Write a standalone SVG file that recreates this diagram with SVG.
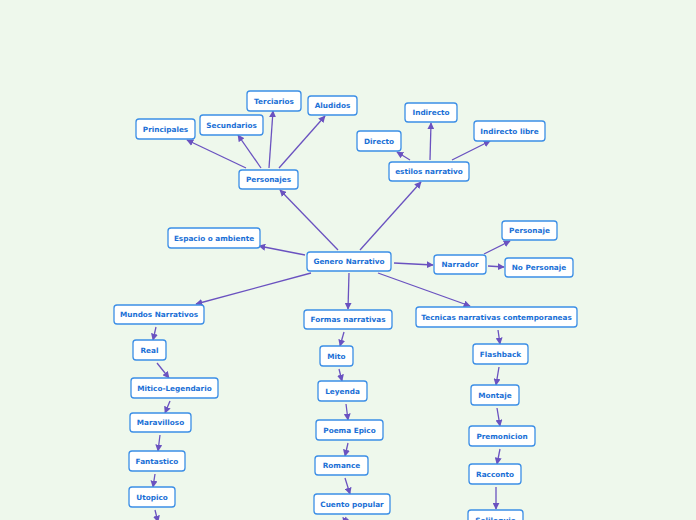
<svg xmlns="http://www.w3.org/2000/svg" width="696" height="520" viewBox="0 0 696 520">
<style>
.n rect{fill:#fff;stroke:#3b8ee6;stroke-width:1.3}
.n text{font-family:Verdana,"DejaVu Sans",sans-serif;font-size:7.3px;font-weight:bold;fill:#1a6fd6;text-anchor:middle;dominant-baseline:central}
.c line{stroke:#6a52c0;stroke-width:1.3;marker-end:url(#a)}
</style>
<defs><marker id="a" viewBox="0 0 10 10" refX="9" refY="5" markerWidth="7" markerHeight="7" orient="auto" markerUnits="userSpaceOnUse"><path d="M0,0L10,5L0,10z" fill="#6a52c0"/></marker></defs>
<rect width="696" height="520" fill="#eef8ec"/>
<g class="c">
<line x1="338" y1="250" x2="280" y2="190"/>
<line x1="360" y1="250" x2="421" y2="182"/>
<line x1="305" y1="255" x2="259" y2="246"/>
<line x1="394" y1="263" x2="433" y2="265"/>
<line x1="311" y1="273" x2="196" y2="304"/>
<line x1="349" y1="273" x2="348" y2="309"/>
<line x1="378" y1="273" x2="470" y2="306"/>
<line x1="246" y1="168" x2="187" y2="140"/>
<line x1="261" y1="168" x2="238" y2="135"/>
<line x1="269" y1="168" x2="273" y2="111"/>
<line x1="279" y1="168" x2="325" y2="116"/>
<line x1="410" y1="160" x2="397" y2="152"/>
<line x1="430" y1="160" x2="431" y2="123"/>
<line x1="452" y1="160" x2="490" y2="141"/>
<line x1="484" y1="254" x2="510" y2="241"/>
<line x1="488" y1="266" x2="504" y2="267"/>
<line x1="156" y1="327" x2="153" y2="340"/>
<line x1="157" y1="363" x2="169" y2="378"/>
<line x1="170" y1="401" x2="165" y2="413"/>
<line x1="160" y1="435" x2="158" y2="451"/>
<line x1="155" y1="474" x2="153" y2="487"/>
<line x1="155" y1="510" x2="158" y2="522"/>
<line x1="344" y1="332" x2="340" y2="346"/>
<line x1="339" y1="369" x2="342" y2="381"/>
<line x1="346" y1="404" x2="348" y2="420"/>
<line x1="348" y1="443" x2="345" y2="456"/>
<line x1="345" y1="478" x2="350" y2="494"/>
<line x1="346" y1="517" x2="344" y2="524"/>
<line x1="498" y1="330" x2="500" y2="344"/>
<line x1="499" y1="367" x2="496" y2="385"/>
<line x1="497" y1="408" x2="500" y2="426"/>
<line x1="500" y1="449" x2="497" y2="464"/>
<line x1="496" y1="487" x2="496" y2="509"/>
</g>
<g id="genero" class="n"><rect x="307" y="252" width="84" height="19" rx="3"/><text x="349" y="261.5">Genero Narrativo</text></g>
<g id="personajes" class="n"><rect x="239" y="170" width="59" height="19" rx="3"/><text x="268.5" y="179.5">Personajes</text></g>
<g id="principales" class="n"><rect x="136" y="119" width="59" height="20" rx="3"/><text x="165.5" y="129">Principales</text></g>
<g id="secundarios" class="n"><rect x="200" y="115" width="63" height="20" rx="3"/><text x="231.5" y="125">Secundarios</text></g>
<g id="terciarios" class="n"><rect x="247" y="91" width="54" height="20" rx="3"/><text x="274" y="101">Terciarios</text></g>
<g id="aludidos" class="n"><rect x="308" y="96" width="49" height="19" rx="3"/><text x="332.5" y="105.5">Aludidos</text></g>
<g id="espacio" class="n"><rect x="168" y="228" width="92" height="20" rx="3"/><text x="214" y="238">Espacio o ambiente</text></g>
<g id="estilos" class="n"><rect x="389" y="162" width="80" height="19" rx="3"/><text x="429" y="171.5">estilos narrativo</text></g>
<g id="directo" class="n"><rect x="357" y="131" width="44" height="20" rx="3"/><text x="379" y="141">Directo</text></g>
<g id="indirecto" class="n"><rect x="405" y="103" width="52" height="19" rx="3"/><text x="431" y="112.5">Indirecto</text></g>
<g id="indirectolibre" class="n"><rect x="474" y="121" width="71" height="20" rx="3"/><text x="509.5" y="131">Indirecto libre</text></g>
<g id="narrador" class="n"><rect x="434" y="255" width="52" height="19" rx="3"/><text x="460" y="264.5">Narrador</text></g>
<g id="personaje" class="n"><rect x="502" y="221" width="55" height="19" rx="3"/><text x="529.5" y="230.5">Personaje</text></g>
<g id="nopersonaje" class="n"><rect x="505" y="258" width="68" height="19" rx="3"/><text x="539" y="267.5">No Personaje</text></g>
<g id="mundos" class="n"><rect x="114" y="305" width="90" height="19" rx="3"/><text x="159" y="314.5">Mundos Narrativos</text></g>
<g id="real" class="n"><rect x="133" y="340" width="33" height="20" rx="3"/><text x="149.5" y="350">Real</text></g>
<g id="mitico" class="n"><rect x="131" y="378" width="87" height="20" rx="3"/><text x="174.5" y="388">Mitico-Legendario</text></g>
<g id="maravilloso" class="n"><rect x="130" y="413" width="61" height="19" rx="3"/><text x="160.5" y="422.5">Maravilloso</text></g>
<g id="fantastico" class="n"><rect x="129" y="451" width="56" height="20" rx="3"/><text x="157" y="461">Fantastico</text></g>
<g id="utopico" class="n"><rect x="129" y="487" width="46" height="20" rx="3"/><text x="152" y="497">Utopico</text></g>
<g id="formas" class="n"><rect x="304" y="310" width="88" height="19" rx="3"/><text x="348" y="319.5">Formas narrativas</text></g>
<g id="mito" class="n"><rect x="320" y="346" width="33" height="20" rx="3"/><text x="336.5" y="356">Mito</text></g>
<g id="leyenda" class="n"><rect x="318" y="381" width="49" height="20" rx="3"/><text x="342.5" y="391">Leyenda</text></g>
<g id="poema" class="n"><rect x="316" y="420" width="67" height="20" rx="3"/><text x="349.5" y="430">Poema Epico</text></g>
<g id="romance" class="n"><rect x="315" y="456" width="53" height="19" rx="3"/><text x="341.5" y="465.5">Romance</text></g>
<g id="cuento" class="n"><rect x="314" y="494" width="76" height="20" rx="3"/><text x="352" y="504">Cuento popular</text></g>
<g id="tecnicas" class="n"><rect x="416" y="307" width="161" height="20" rx="3"/><text x="496.5" y="317">Tecnicas narrativas contemporaneas</text></g>
<g id="flashback" class="n"><rect x="473" y="344" width="55" height="20" rx="3"/><text x="500.5" y="354">Flashback</text></g>
<g id="montaje" class="n"><rect x="471" y="385" width="48" height="20" rx="3"/><text x="495" y="395">Montaje</text></g>
<g id="premonicion" class="n"><rect x="469" y="426" width="66" height="20" rx="3"/><text x="502" y="436">Premonicion</text></g>
<g id="racconto" class="n"><rect x="469" y="464" width="52" height="20" rx="3"/><text x="495" y="474">Racconto</text></g>
<g id="soliloquio" class="n"><rect x="468" y="510" width="55" height="20" rx="3"/><text x="495.5" y="520">Soliloquio</text></g>
</svg>
